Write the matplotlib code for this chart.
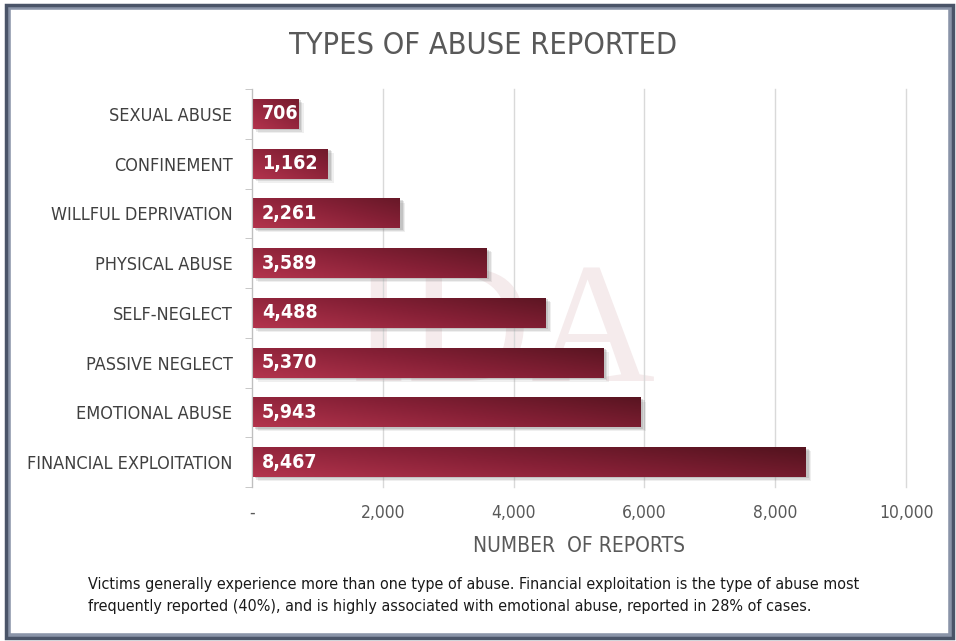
import numpy as np
import matplotlib.pyplot as plt
from matplotlib import font_manager
from matplotlib.patches import Rectangle
from matplotlib.transforms import ScaledTranslation
from matplotlib.colors import LinearSegmentedColormap

# data, bottom to top
categories = ["FINANCIAL EXPLOITATION", "EMOTIONAL ABUSE", "PASSIVE NEGLECT",
              "SELF-NEGLECT", "PHYSICAL ABUSE", "WILLFUL DEPRIVATION",
              "CONFINEMENT", "SEXUAL ABUSE"]
reports = [8467, 5943, 5370, 4488, 3589, 2261, 1162, 706]
xticks = [0, 2000, 4000, 6000, 8000, 10000]
xtick_labels = ["-", "2,000", "4,000", "6,000", "8,000", "10,000"]

# pick a narrow font if one is there (the original uses Calibri)
names = {f.name for f in font_manager.fontManager.ttflist}
stretches = {(f.name, f.stretch) for f in font_manager.fontManager.ttflist}
family = 'DejaVu Sans'
stretch = 'normal'
scale = 0.9
if 'Liberation Sans Narrow' in names:
    family, scale = 'Liberation Sans Narrow', 1.0
elif ('DejaVu Sans', 'condensed') in stretches or ('DejaVu Sans', 'semi-condensed') in stretches:
    stretch, scale = 'condensed', 1.0
plt.rcParams['font.family'] = [family, 'DejaVu Sans']
plt.rcParams['font.stretch'] = stretch

fig = plt.figure(figsize=(9.56, 6.41), dpi=100)

# outer frame
fig.patches.append(Rectangle((8/956, 5/641), 943/956, 629/641, transform=fig.transFigure,
                             fill=False, edgecolor='#8a94a8', lw=4, zorder=0))
fig.patches.append(Rectangle((6/956, 3/641), 947/956, 633/641, transform=fig.transFigure,
                             fill=False, edgecolor='#4a5468', lw=2.5, zorder=0))

ax = fig.add_axes([252/956, 1 - 487/641, 654/956, 398/641])

y = np.arange(len(categories))
h = 0.6

# watermark
ax.text(3830, 2.45, "IDA", fontsize=124, family='Liberation Serif', color='#f5ebec',
        ha='center', va='center', zorder=0.5)

# soft shadow
for dx, dy, a in [(4, -3, 0.12), (3, -2, 0.18), (2, -1, 0.25)]:
    shadow = ax.barh(y, reports, height=h, color='#808080', alpha=a, zorder=1.5)
    for p in shadow:
        p.set_transform(ax.transData + ScaledTranslation(dx/72, dy/72, fig.dpi_scale_trans))

bars = ax.barh(y, reports, height=h, color='none', zorder=2)
cmap = LinearSegmentedColormap.from_list('wine', ['#b3344d', '#862036', '#571420'])
gx = np.linspace(0, 1, 256)
gy = np.linspace(0, 1, 32)
gxx, gyy = np.meshgrid(gx, gy)
for b, v, yy in zip(bars, reports, y):
    grad = np.clip(0.7 * gxx * (v / 8467) ** 0.3 + 0.35 * gyy, 0, 1)
    im = ax.imshow(grad, cmap=cmap, vmin=0, vmax=1, aspect='auto', origin='lower',
                   extent=[0, v, yy - h/2, yy + h/2], zorder=2)
    im.set_clip_path(b)
    ax.text(150, yy, f"{v:,}", color='white', fontsize=14 * scale, fontweight='bold',
            ha='left', va='center', zorder=3)
ax.set_xlim(0, 10000)
ax.set_ylim(-0.5, len(categories) - 0.5)

ax.set_xticks(xticks)
ax.set_xticklabels(xtick_labels, fontsize=12.5 * scale, color='#595959')
ax.set_yticks(y)
ax.set_yticklabels(categories, fontsize=13 * scale, color='#404040')
ax.set_yticks(np.arange(-0.5, len(categories), 1), minor=True)
ax.tick_params(axis='y', which='major', length=0, pad=14)
ax.tick_params(axis='y', which='minor', length=5, color='#bfbfbf')
ax.tick_params(axis='x', length=0, pad=12)
ax.grid(axis='x', color='#d9d9d9', lw=1)
for gl in ax.get_xgridlines():
    gl.set_clip_on(False)
ax.set_axisbelow(True)
for s in ['top', 'right', 'bottom']:
    ax.spines[s].set_visible(False)
ax.spines['left'].set_color('#bfbfbf')

ax.set_xlabel("NUMBER  OF REPORTS", fontsize=15 * scale, color='#595959', labelpad=10)

fig.text(483/956, 1 - 45/641, "TYPES OF ABUSE REPORTED", fontsize=22 * scale, color='#595959',
         ha='center', va='center')

fig.text(88/956, 1 - 585/641,
         "Victims generally experience more than one type of abuse. Financial exploitation is the type of abuse most",
         fontsize=11.5 * scale, color='#1a1a1a', ha='left', va='center')
fig.text(88/956, 1 - 606/641,
         "frequently reported (40%), and is highly associated with emotional abuse, reported in 28% of cases.",
         fontsize=11.5 * scale, color='#1a1a1a', ha='left', va='center')

fig.savefig('out.png', dpi=100)
